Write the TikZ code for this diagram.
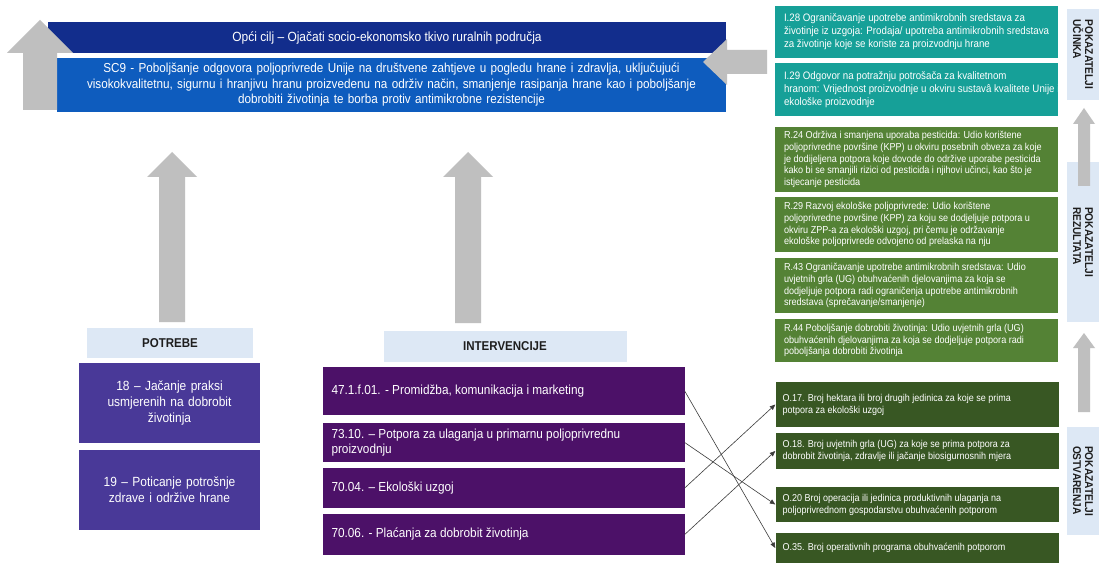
\documentclass[tikz,border=0pt]{standalone}
\usepackage{fontspec}
\setmainfont{Liberation Sans}[FakeStretch=0.9]
\usetikzlibrary{arrows.meta}
\definecolor{navy}{RGB}{18,45,140}
\definecolor{scblue}{RGB}{14,92,190}
\definecolor{tealc}{RGB}{22,160,152}
\definecolor{rgreen}{RGB}{84,130,53}
\definecolor{ogreen}{RGB}{56,87,35}
\definecolor{ipurple}{RGB}{76,17,104}
\definecolor{npurple}{RGB}{73,57,152}
\definecolor{lblue}{RGB}{221,232,245}
\definecolor{agrey}{RGB}{191,191,191}
\definecolor{lgrey}{RGB}{60,60,60}
\definecolor{ltext}{RGB}{30,30,30}
\begin{document}
\begin{tikzpicture}[x=1pt,y=-1pt,
  base/.style={inner xsep=0pt, inner ysep=0pt, text=white, anchor=center},
  goalbox/.style={base, fill=navy, minimum width=678, minimum height=31, font=\fontsize{13.3}{15.5}\selectfont},
  scbox/.style={base, fill=scblue, minimum width=669, minimum height=54, text width=665, align=center, font=\fontsize{13}{15.5}\selectfont},
  rbox/.style={base, minimum width=283},
  tealbox/.style={rbox, fill=tealc},
  resbox/.style={rbox, fill=rgreen},
  outbox/.style={rbox, fill=ogreen},
  ttxt/.style={inner sep=0pt, anchor=west, align=left, text=white, font=\fontsize{10.8}{13}\selectfont},
  rtxt/.style={ttxt, font=\fontsize{10.1}{11.8}\selectfont},
  otxt/.style={ttxt, font=\fontsize{10}{12}\selectfont},
  ibox/.style={base, fill=ipurple, minimum width=362},
  itxt/.style={inner sep=0pt, anchor=west, align=left, text=white, font=\fontsize{13.1}{14.5}\selectfont},
  nbox/.style={base, fill=npurple, minimum width=181, minimum height=80, text width=178, align=center, font=\fontsize{13.3}{16}\selectfont},
  lbl/.style={base, fill=lblue, text=ltext, font=\bfseries\fontsize{12.8}{14}\selectfont},
  vlbl/.style={lbl, rotate=-90, align=left, font=\bfseries\fontsize{11.3}{12}\selectfont},
  blockarrow/.style={fill=agrey},
  conn/.style={draw=lgrey, line width=0.6pt, -{Triangle[length=5.5pt,width=4.5pt]}}
]
\useasboundingbox[fill=white] (0,0) rectangle (1100,564);

% top goal boxes
\node[goalbox] (goal) at (387,37.5) {Opći cilj – Ojačati socio-ekonomsko tkivo ruralnih područja};
\node[scbox] (sc9) at (391.5,85) {SC9 - Poboljšanje odgovora poljoprivrede Unije na društvene zahtjeve u pogledu hrane i zdravlja, uključujući\\ visokokvalitetnu, sigurnu i hranjivu hranu proizvedenu na održiv način, smanjenje rasipanja hrane kao i poboljšanje\\ dobrobiti životinja te borba protiv antimikrobne rezistencije};

% big arrow at left of goal boxes
\fill[blockarrow] (40,20) -- (73,53) -- (57,53) -- (57,110) -- (23,110) -- (23,53) -- (7,53) -- cycle;
% arrow pointing left into goal boxes
\fill[blockarrow] (703,62) -- (727,39) -- (727,50) -- (767,50) -- (767,74) -- (727,74) -- (727,85) -- cycle;

% impact indicators
\node[tealbox, minimum height=52] (i28) at (916.5,32) {};
\node[ttxt] (i28t) at ([xshift=9pt]i28.west) {I.28 Ograničavanje upotrebe antimikrobnih sredstava za\\ životinje iz uzgoja: Prodaja/ upotreba antimikrobnih sredstava\\ za životinje koje se koriste za proizvodnju hrane};
\node[tealbox, minimum height=53] (i29) at (916.5,89.5) {};
\node[ttxt] (i29t) at ([xshift=9pt]i29.west) {I.29 Odgovor na potražnju potrošača za kvalitetnom\\ hranom: Vrijednost proizvodnje u okviru sustavâ kvalitete Unije i\\ ekološke proizvodnje};

% result indicators
\node[resbox, minimum height=65] (r24) at (916.5,159.5) {};
\node[rtxt] (r24t) at ([xshift=9pt]r24.west) {R.24 Održiva i smanjena uporaba pesticida: Udio korištene\\ poljoprivredne površine (KPP) u okviru posebnih obveza za koje\\ je dodijeljena potpora koje dovode do održive uporabe pesticida\\ kako bi se smanjili rizici od pesticida i njihovi učinci, kao što je\\ istjecanje pesticida};
\node[resbox, minimum height=55] (r29) at (916.5,224.5) {};
\node[rtxt] (r29t) at ([xshift=9pt]r29.west) {R.29 Razvoj ekološke poljoprivrede: Udio korištene\\ poljoprivredne površine (KPP) za koju se dodjeljuje potpora u\\ okviru ZPP-a za ekološki uzgoj, pri čemu je održavanje\\ ekološke poljoprivrede odvojeno od prelaska na nju};
\node[resbox, minimum height=55] (r43) at (916.5,285.5) {};
\node[rtxt] (r43t) at ([xshift=9pt]r43.west) {R.43 Ograničavanje upotrebe antimikrobnih sredstava: Udio\\ uvjetnih grla (UG) obuhvaćenih djelovanjima za koja se\\ dodjeljuje potpora radi ograničenja upotrebe antimikrobnih\\ sredstava (sprečavanje/smanjenje)};
\node[resbox, minimum height=43] (r44) at (916.5,340.5) {};
\node[rtxt] (r44t) at ([xshift=9pt]r44.west) {R.44 Poboljšanje dobrobiti životinja: Udio uvjetnih grla (UG)\\ obuhvaćenih djelovanjima za koja se dodjeljuje potpora radi\\ poboljšanja dobrobiti životinja};

% output indicators
\node[outbox, minimum height=45] (o17) at (917,404.5) {};
\node[otxt] (o17t) at ([xshift=7pt]o17.west) {O.17. Broj hektara ili broj drugih jedinica za koje se prima\\ potpora za ekološki uzgoj};
\node[outbox, minimum height=36] (o18) at (917,451) {};
\node[otxt] (o18t) at ([xshift=7pt]o18.west) {O.18. Broj uvjetnih grla (UG) za koje se prima potpora za\\ dobrobit životinja, zdravlje ili jačanje biosigurnosnih mjera};
\node[outbox, minimum height=35] (o20) at (917,504.5) {};
\node[otxt] (o20t) at ([xshift=7pt]o20.west) {O.20 Broj operacija ili jedinica produktivnih ulaganja na\\ poljoprivrednom gospodarstvu obuhvaćenih potporom};
\node[outbox, minimum height=30] (o35) at (917,548) {};
\node[otxt] (o35t) at ([xshift=7pt]o35.west) {O.35. Broj operativnih programa obuhvaćenih potporom};

% vertical labels
\node[vlbl, minimum width=91, minimum height=32] (lu) at (1083,54.5) {POKAZATELJI\\UČINKA};
\node[vlbl, minimum width=160, minimum height=32] (lr) at (1083,242) {POKAZATELJI\\REZULTATA};
\node[vlbl, minimum width=108, minimum height=32] (lo) at (1083,481) {POKAZATELJI\\OSTVARENJA};

% small up arrows
\fill[blockarrow] (1084,108) -- (1095,124) -- (1090,124) -- (1090,186) -- (1078,186) -- (1078,124) -- (1073,124) -- cycle;
\fill[blockarrow] (1084,333) -- (1095,348) -- (1090,348) -- (1090,412) -- (1078,412) -- (1078,348) -- (1073,348) -- cycle;

% needs
\node[lbl, minimum width=166, minimum height=30] (potr) at (170,343) {POTREBE};
\node[nbox] (n18) at (169.5,403) {18 – Jačanje praksi\\ usmjerenih na dobrobit\\ životinja};
\node[nbox] (n19) at (169.5,490) {19 – Poticanje potrošnje\\ zdrave i održive hrane};

% interventions
\node[lbl, minimum width=243, minimum height=31] (interv) at (505,346.5) {INTERVENCIJE};
\node[ibox, minimum height=48] (iv47) at (503.5,391) {};
\node[itxt] (iv47t) at ([xshift=9pt]iv47.west) {47.1.f.01. - Promidžba, komunikacija i marketing};
\node[ibox, minimum height=39] (iv73) at (503.5,442.5) {};
\node[itxt] (iv73t) at ([xshift=9pt]iv73.west) {73.10. – Potpora za ulaganja u primarnu poljoprivrednu\\ proizvodnju};
\node[ibox, minimum height=40] (iv704) at (503.5,488) {};
\node[itxt] (iv704t) at ([xshift=9pt]iv704.west) {70.04. – Ekološki uzgoj};
\node[ibox, minimum height=41] (iv706) at (503.5,534.5) {};
\node[itxt] (iv706t) at ([xshift=9pt]iv706.west) {70.06. - Plaćanja za dobrobit životinja};

% big up arrows
\fill[blockarrow] (172,152) -- (197,177) -- (185,177) -- (185,322) -- (159,322) -- (159,177) -- (147,177) -- cycle;
\fill[blockarrow] (468,152) -- (493,177) -- (481,177) -- (481,323) -- (455,323) -- (455,177) -- (443,177) -- cycle;

% connectors
\draw[conn] (iv47.east) -- (o35.west);
\draw[conn] (iv73.east) -- (o20.west);
\draw[conn] (iv704.east) -- (o17.west);
\draw[conn] (iv706.east) -- (o18.west);
\end{tikzpicture}
\end{document}
